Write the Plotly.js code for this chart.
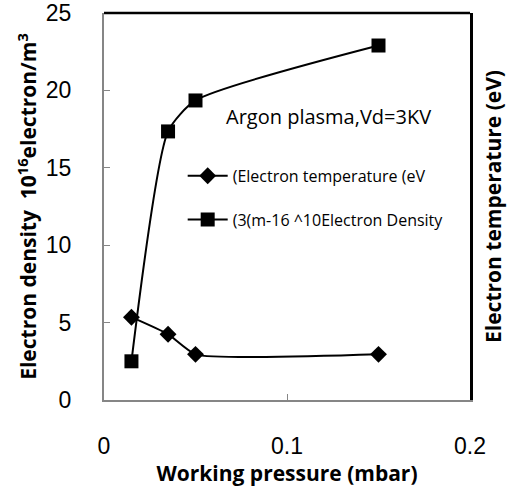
<!DOCTYPE html>
<html>
<head>
<meta charset="utf-8">
<script src="https://cdn.plot.ly/plotly-3.0.1.min.js"></script>
<style>html,body{margin:0;padding:0;background:#fff;}#chart{width:526px;height:488px;}</style>
</head>
<body>
<div id="chart"></div>
<script>
const pressure = [0.015, 0.035, 0.05, 0.15];
const temperature = [5.35, 4.25, 2.95, 2.95];
const density = [2.5, 17.35, 19.35, 22.9];
const xTicks = [0, 0.1, 0.2];
const yTicks = [0, 5, 10, 15, 20, 25];

const calibri = "Open Sans, Lato, sans-serif";
const arial = "Liberation Sans, Arial, sans-serif";
const gray = "#868686";

const traces = [
  {
    x: pressure, y: temperature, yaxis: "y2",
    name: "(Electron temperature (eV",
    mode: "lines+markers", line: {color: "#000", width: 2, shape: "spline", smoothing: 0.5},
    marker: {symbol: "diamond", size: 13, color: "#000"},
    legendgroup: "a"
  },
  {
    x: pressure, y: density,
    name: "(3(m-16 ^10Electron Density",
    mode: "lines+markers", line: {color: "#000", width: 2, shape: "spline", smoothing: 0.6},
    marker: {symbol: "square", size: 14, color: "#000"},
    legendgroup: "b"
  }
];

const layout = {
  width: 526, height: 488,
  margin: {l: 104, r: 56, t: 13, b: 88},
  paper_bgcolor: "#fff", plot_bgcolor: "#fff",
  showlegend: true,
  legend: {
    x: 0.215, y: 0.623, xanchor: "left", yanchor: "top",
    bgcolor: "rgba(0,0,0,0)", font: {family: calibri, size: 16, color: "#000"},
    traceorder: "grouped", tracegroupgap: 20, itemwidth: 40
  },
  xaxis: {
    range: [0, 0.2], tickvals: xTicks, ticktext: ["0", "0.1", "0.2"],
    showgrid: false, zeroline: false,
    showline: true, linecolor: gray, linewidth: 2,
    ticks: "inside", ticklen: 6, tickcolor: gray, tickwidth: 1,
    tickfont: {family: arial, size: 23, color: "#000"},
    ticklabelstandoff: 24,
    title: {text: "Working pressure (mbar)", font: {family: calibri, size: 21, color: "#000", weight: "bold"}, standoff: 5}
  },
  yaxis: {
    range: [0, 25], tickvals: yTicks,
    showgrid: false, zeroline: false,
    showline: true, linecolor: gray, linewidth: 2,
    ticks: "inside", ticklen: 6, tickcolor: gray, tickwidth: 1,
    tickfont: {family: arial, size: 23, color: "#000"},
    ticklabelstandoff: 26,
    title: {text: "Electron density  10<sup>16</sup>electron/m<sup>3</sup>", font: {family: calibri, size: 21, color: "#000", weight: "bold"}, standoff: 3}
  },
  yaxis2: {
    range: [0, 25], overlaying: "y", side: "right",
    showgrid: false, zeroline: false, showticklabels: false, ticks: "",
    showline: true, linecolor: "#000", linewidth: 2.5,
    title: {text: "Electron temperature (eV)", font: {family: calibri, size: 21, color: "#000", weight: "bold"}, standoff: 15}
  },
  shapes: [
    {type: "line", xref: "paper", yref: "paper", x0: 0, x1: 1, y0: 1, y1: 1, line: {color: "#000", width: 2.5}}
  ],
  annotations: [
    {x: 0.1225, y: 18.3, xref: "x", yref: "y", text: "Argon plasma,Vd=3KV", showarrow: false,
     font: {family: calibri, size: 20, color: "#000"}}
  ]
};

Plotly.newPlot("chart", traces, layout, {displayModeBar: false, staticPlot: true});
</script>
</body>
</html>
